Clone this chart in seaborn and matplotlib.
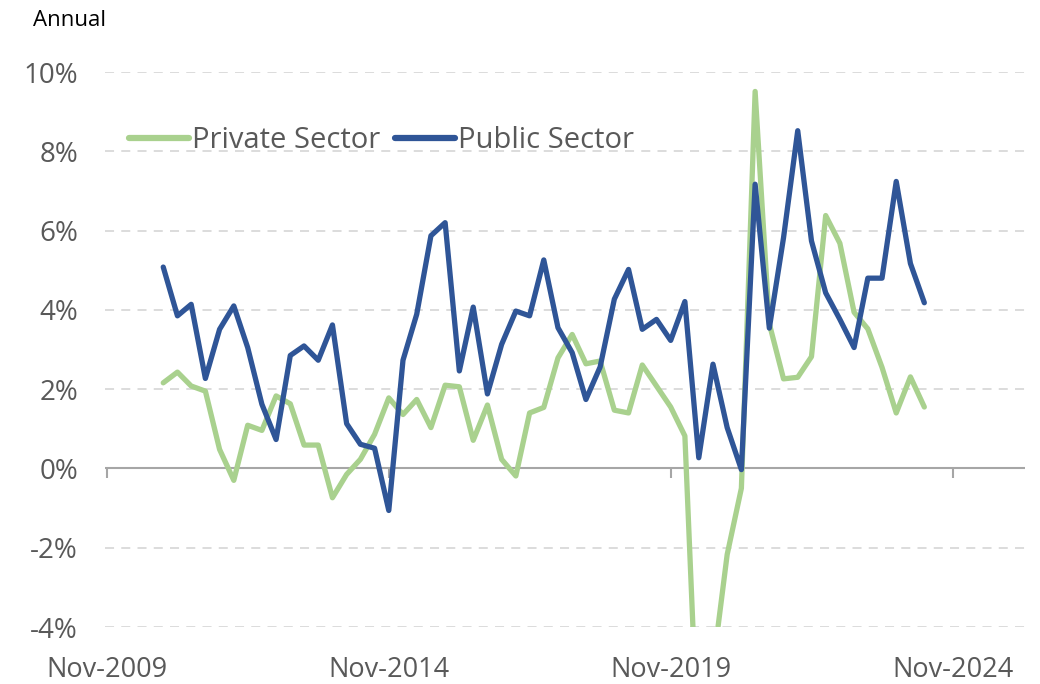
import matplotlib
matplotlib.use("Agg")
import matplotlib.pyplot as plt
import matplotlib.dates as mdates
import seaborn as sns
import pandas as pd
import numpy as np

# ---- data (annual % change, quarterly, Nov-2010 .. May-2024) ----
dates = pd.date_range("2010-11-01", periods=55, freq="3MS")
private_sector = [2.16, 2.43, 2.08, 1.95, 0.48, -0.30, 1.09, 0.96, 1.83, 1.63,
                  0.59, 0.59, -0.74, -0.15, 0.23, 0.86, 1.78, 1.36, 1.74, 1.03,
                  2.10, 2.06, 0.71, 1.60, 0.23, -0.19, 1.40, 1.54, 2.79, 3.38,
                  2.64, 2.71, 1.47, 1.40, 2.61, 2.08, 1.55, 0.82, -7.5, -5.0,
                  -2.17, -0.50, 9.51, 3.65, 2.26, 2.30, 2.82, 6.38, 5.68, 3.94,
                  3.52, 2.55, 1.40, 2.31, 1.55]
public_sector = [5.08, 3.85, 4.14, 2.27, 3.51, 4.10, 3.05, 1.62, 0.73, 2.85,
                 3.09, 2.73, 3.62, 1.13, 0.61, 0.51, -1.06, 2.73, 3.89, 5.87,
                 6.20, 2.46, 4.07, 1.88, 3.13, 3.97, 3.85, 5.26, 3.55, 2.92,
                 1.74, 2.56, 4.27, 5.02, 3.51, 3.76, 3.23, 4.21, 0.27, 2.63,
                 1.03, -0.03, 7.17, 3.54, 5.82, 8.52, 5.74, 4.43, 3.76, 3.05,
                 4.80, 4.80, 7.24, 5.17, 4.18]
series_names = ["Private Sector", "Public Sector"]
series_colors = ["#A9D18E", "#2F5597"]
x_tick_dates = pd.to_datetime(["2009-11-01", "2014-11-01", "2019-11-01", "2024-11-01"])
x_tick_labels = ["Nov-2009", "Nov-2014", "Nov-2019", "Nov-2024"]
y_ticks = [-4, -2, 0, 2, 4, 6, 8, 10]

df = pd.DataFrame({
    "date": list(dates) * 2,
    "value": private_sector + public_sector,
    "series": [series_names[0]] * 55 + [series_names[1]] * 55,
})

sns.set_style("white")
plt.rcParams["font.family"] = ["Open Sans", "DejaVu Sans"]

fig = plt.figure(figsize=(10.4, 6.84), dpi=100)
ax = fig.add_axes([0.101, 0.0833, 0.885, 0.8114])

gray = "#595959"
for yv in y_ticks:
    if yv != 0:
        ax.axhline(yv, color="#D9D9D9", lw=1.3, ls=(0, (5, 4)), zorder=0)
ax.axhline(0, color="#A6A6A6", lw=1.5, zorder=1)
ax.vlines(x_tick_dates, -0.23, 0, color="#A6A6A6", lw=1.5, zorder=1)

sns.lineplot(data=df, x="date", y="value", hue="series", palette=series_colors,
             hue_order=series_names, linewidth=3.8, ax=ax, zorder=3)

ax.set_ylim(-4, 10)
ax.set_xlim(pd.Timestamp("2009-10-20"), pd.Timestamp("2026-02-15"))
ax.set_yticks(y_ticks)
ax.set_yticklabels([f"{v}%" for v in y_ticks])
ax.set_xticks(x_tick_dates)
ax.set_xticklabels(x_tick_labels)
ax.tick_params(axis="both", length=0, labelcolor=gray)
ax.tick_params(axis="y", pad=19.5, labelsize=20)
ax.tick_params(axis="x", pad=21, labelsize=19.5)
ax.set_xlabel("")
ax.set_ylabel("")
for s in ax.spines.values():
    s.set_visible(False)

leg = ax.legend(loc="upper left", bbox_to_anchor=(0.007, 0.934), ncol=2, frameon=False,
                fontsize=21, handlelength=2.05, handletextpad=0.12, columnspacing=0.5,
                labelcolor=gray, borderaxespad=0.2)
for h in leg.get_lines():
    h.set_linewidth(4.5)
    h.set_solid_capstyle("round")

fig.text(0.032, 0.97, "Annual", fontsize=16, color="black", va="center", ha="left")

fig.savefig("out.png", dpi=100)
